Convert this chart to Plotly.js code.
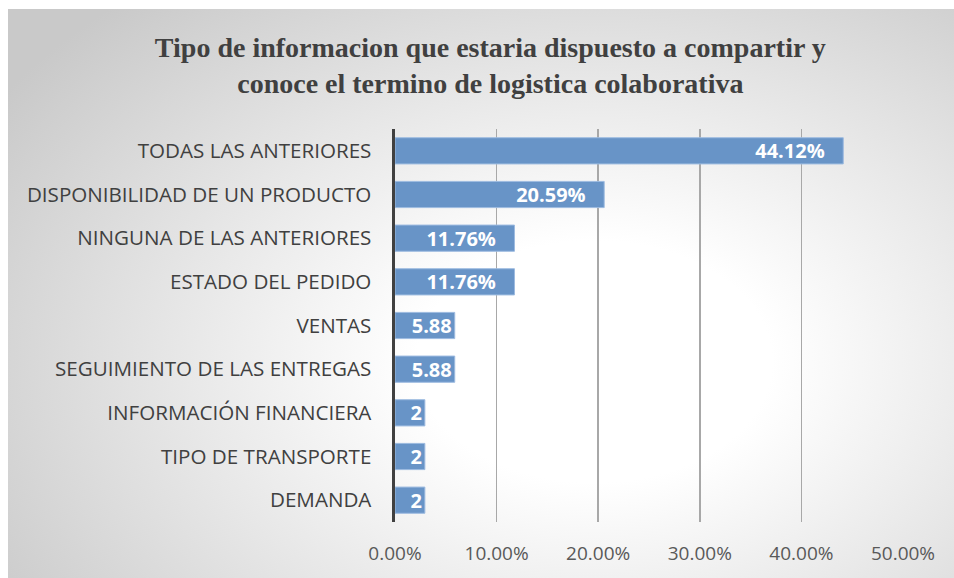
<!DOCTYPE html>
<html>
<head>
<meta charset="utf-8">
<script src="https://cdn.plot.ly/plotly-3.0.1.min.js"></script>
<style>
  html, body { margin: 0; padding: 0; background: #ffffff; }
  #bg { position: absolute; left: 8px; top: 9px; width: 946px; height: 569px;
        background: radial-gradient(ellipse 75% 85% at 62% 62%, #ffffff 0%, #ffffff 25%, #e6e6e6 60%, #c9c9c9 100%); }
  #chart { position: absolute; left: 0; top: 0; width: 954px; height: 578px; }
</style>
</head>
<body>
<div id="bg"></div>
<div id="chart"></div>
<script>
const categories = [
  "TODAS LAS ANTERIORES",
  "DISPONIBILIDAD DE UN PRODUCTO",
  "NINGUNA DE LAS ANTERIORES",
  "ESTADO DEL PEDIDO",
  "VENTAS",
  "SEGUIMIENTO DE LAS ENTREGAS",
  "INFORMACIÓN FINANCIERA",
  "TIPO DE TRANSPORTE",
  "DEMANDA"
];
const values = [0.4412, 0.2059, 0.1176, 0.1176, 0.0588, 0.0588, 0.0294, 0.0294, 0.0294];
const valueLabels = ["44.12%", "20.59%", "11.76%", "11.76%", "5.88", "5.88", "2", "2", "2"];
const tickValues = [0, 0.1, 0.2, 0.3, 0.4, 0.5];
const tickLabels = ["0.00%", "10.00%", "20.00%", "30.00%", "40.00%", "50.00%"];

// wider bars get extra right padding for their label, as in the original
const barText = valueLabels.map((s, i) => values[i] > 0.1 ? s + "\u00a0\u00a0\u00a0" : s);

const trace = {
  type: "bar",
  orientation: "h",
  y: categories,
  x: values,
  text: barText,
  textposition: "inside",
  insidetextanchor: "end",
  textangle: 0,
  constraintext: "none",
  cliponaxis: false,
  textfont: { family: "Open Sans, sans-serif", size: 20, color: "#ffffff", weight: "bold" },
  marker: { color: "#6894c7", line: { color: "#9dbbe0", width: 1 } },
  hoverinfo: "skip"
};

const layout = {
  width: 954, height: 578,
  paper_bgcolor: "rgba(0,0,0,0)",
  plot_bgcolor: "rgba(0,0,0,0)",
  margin: { l: 395, r: 51, t: 129, b: 56 },
  bargap: 0.4,
  showlegend: false,
  title: {
    text: "Tipo de informacion que estaria dispuesto a compartir y<br>conoce el termino de logistica colaborativa",
    font: { family: "Liberation Serif, Times New Roman, serif", size: 28, color: "#404040", weight: "bold" },
    x: 0.514, xref: "container", xanchor: "center",
    y: 0.902, yref: "container", yanchor: "top"
  },
  xaxis: {
    range: [0, 0.5],
    tickvals: tickValues,
    ticktext: tickLabels,
    showgrid: true,
    gridcolor: "#a8a8a8",
    gridwidth: 1.5,
    zeroline: false,
    showline: false,
    ticks: "",
    ticklabelstandoff: 18,
    tickfont: { family: "Open Sans, sans-serif", size: 19, color: "#595959" },
    fixedrange: true
  },
  yaxis: {
    type: "category",
    autorange: "reversed",
    showgrid: false,
    zeroline: false,
    showline: true,
    linecolor: "#404040",
    linewidth: 3.5,
    ticks: "",
    ticklabelstandoff: 16,
    tickfont: { family: "Open Sans, sans-serif", size: 20.6, color: "#404040" },
    fixedrange: true
  }
};

Plotly.newPlot("chart", [trace], layout, { displayModeBar: false, staticPlot: true });
</script>
</body>
</html>
